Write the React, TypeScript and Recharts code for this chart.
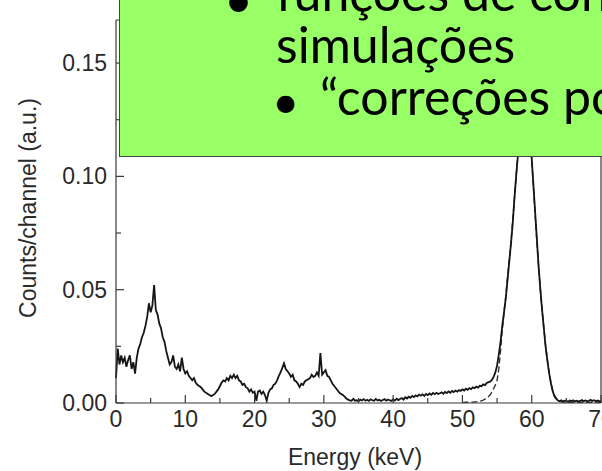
import { Label, Line, LineChart, ReferenceLine, XAxis, YAxis } from 'recharts';

// channel width of the spectrum (keV)
const CHANNEL_KEV = 0.25;

// measured spectrum, counts/channel, one row per keV (4 channels each), 0 … 70 keV
const measured = [
  0.011, 0.024, 0.017, 0.021,
  0.018, 0.020, 0.016, 0.019,
  0.021, 0.015, 0.018, 0.013,
  0.020, 0.024, 0.026, 0.029,
  0.031, 0.034, 0.038, 0.044,
  0.040, 0.043, 0.052, 0.041,
  0.039, 0.035, 0.033, 0.029,
  0.027, 0.023, 0.020, 0.017,
  0.018, 0.021, 0.016, 0.015,
  0.017, 0.014, 0.020, 0.015,
  0.013, 0.014, 0.012, 0.011,
  0.010, 0.011, 0.009, 0.008,
  0.0075, 0.007, 0.006, 0.005,
  0.0045, 0.004, 0.0035, 0.003,
  0.0035, 0.004, 0.005, 0.006,
  0.0075, 0.009, 0.010, 0.0095,
  0.011, 0.010, 0.012, 0.011,
  0.0125, 0.011, 0.012, 0.010,
  0.0095, 0.008, 0.0085, 0.007,
  0.0065, 0.005, 0.006, 0.0045,
  0.005, 0.001, 0.005, 0.0055,
  0.004, 0.005, 0.0035, 0.001,
  0.0045, 0.006, 0.0065, 0.008,
  0.0085, 0.010, 0.012, 0.0135,
  0.0155, 0.0175, 0.015, 0.014,
  0.013, 0.0115, 0.0125, 0.010,
  0.0095, 0.0085, 0.007, 0.0085,
  0.008, 0.0095, 0.010, 0.0105,
  0.011, 0.0125, 0.0115, 0.012,
  0.0135, 0.012, 0.022, 0.0125,
  0.0135, 0.0145, 0.012, 0.0115,
  0.010, 0.0085, 0.0075, 0.0065,
  0.0055, 0.0045, 0.004, 0.0035,
  0.0028, 0.002, 0.0015, 0.0012,
  0.001, 0.0018, 0.001, 0.0012,
  0.0008, 0.0015, 0.0011, 0.0017,
  0.001, 0.0014, 0.0009, 0.0016,
  0.0012, 0.001, 0.0018, 0.0011,
  0.0014, 0.0009, 0.0013, 0.0017,
  0.001, 0.0015, 0.0012, 0.0009,
  0.0016, 0.0011, 0.0019, 0.0013,
  0.0018, 0.0022, 0.0015, 0.0025,
  0.002, 0.0028, 0.0023, 0.0031,
  0.0026, 0.0034, 0.0029, 0.0037,
  0.0032, 0.0038, 0.0031, 0.004,
  0.0035, 0.0042, 0.0036, 0.0044,
  0.0039, 0.0045, 0.004, 0.0043,
  0.0047, 0.0041, 0.0049, 0.0044,
  0.0051, 0.0045, 0.0053, 0.0048,
  0.0055, 0.005, 0.0057, 0.0053,
  0.006, 0.0055, 0.0063, 0.0058,
  0.0066, 0.0061, 0.0069, 0.0065,
  0.0072, 0.0068, 0.0076, 0.0074,
  0.0082, 0.0079, 0.0088, 0.0092,
  0.0094, 0.0102, 0.0115, 0.0135,
  0.0165, 0.0215, 0.027, 0.034,
  0.040, 0.046, 0.054, 0.062,
  0.070, 0.079, 0.090, 0.100,
  0.109, 0.119, 0.128, 0.135,
  0.139, 0.141, 0.135, 0.123,
  0.108, 0.096, 0.084, 0.072,
  0.060, 0.050, 0.041, 0.033,
  0.025, 0.019, 0.0135, 0.009,
  0.0055, 0.0032, 0.002, 0.0012,
  0.0008, 0.0012, 0.0007, 0.001,
  0.0009, 0.0006, 0.0011, 0.0008,
  0.0012, 0.0007, 0.001, 0.0006,
  0.0009, 0.0013, 0.0008, 0.0011,
  0.0007, 0.001, 0.0014, 0.0009,
  0.0012, 0.0008, 0.0011, 0.0007,
  0.001,
];

// simulated response (dashed), starts at 50 keV
const SIM_START_KEV = 50;
const simulated = [
  0.0002, 0.0002, 0.0003, 0.0003,
  0.0003, 0.0004, 0.0004, 0.0005,
  0.0005, 0.0006, 0.0008, 0.0010,
  0.0013, 0.0017, 0.0022, 0.0028,
  0.0036, 0.0048, 0.0063, 0.0080,
  0.0100, 0.0150, 0.0230, 0.0320,
  0.0400, 0.0470, 0.0550, 0.0630,
  0.0710, 0.0800, 0.0900, 0.1000,
  0.1090, 0.1180, 0.1270, 0.1340,
  0.1380, 0.1390, 0.1340, 0.1220,
  0.1070, 0.0950, 0.0830, 0.0710,
  0.0600, 0.0500, 0.0410, 0.0330,
  0.0255, 0.0190, 0.0138, 0.0095,
  0.0060, 0.0036, 0.0022, 0.0013,
  0.0008, 0.0005, 0.0004, 0.0003,
  0.0003, 0.0003, 0.0003, 0.0003,
  0.0003, 0.0003, 0.0003, 0.0003,
  0.0003, 0.0003, 0.0003, 0.0003,
  0.0003, 0.0003, 0.0003, 0.0003,
  0.0003, 0.0003, 0.0003, 0.0003,
  0.0003,
];

const xTicks = [0, 5, 10, 15, 20, 25, 30, 35, 40, 45, 50, 55, 60, 65, 70];
const xLabelTicks = [0, 10, 20, 30, 40, 50, 60, 70];
const yTicks = [0, 0.025, 0.05, 0.075, 0.1, 0.125, 0.15];
const yLabelTicks = [0, 0.05, 0.1, 0.15];
const Y_MAX = 0.169;

const simOffset = SIM_START_KEV / CHANNEL_KEV;
const chartData = measured.map((counts, i) => ({
  energy: i * CHANNEL_KEV,
  counts,
  sim: i >= simOffset ? simulated[i - simOffset] : null,
}));

const AXIS = '#3a3a3a';
const TEXT = '#2a2a2a';
const FONT = '"Liberation Sans", Arial, sans-serif';

function XTick({ x, y, payload }: any) {
  const major = xLabelTicks.includes(payload.value);
  return (
    <g>
      <line x1={x} x2={x} y1={y} y2={y - (major ? 8 : 5)} stroke={AXIS} strokeWidth={1.2} />
      {major && (
        <text x={x} y={y + 24} textAnchor="middle" fontSize={23} fontFamily={FONT} fill={TEXT}>
          {payload.value}
        </text>
      )}
    </g>
  );
}

function YTick({ x, y, payload }: any) {
  const major = yLabelTicks.some((v) => Math.abs(v - payload.value) < 1e-9);
  return (
    <g>
      <line x1={x} x2={x + (major ? 8 : 5)} y1={y} y2={y} stroke={AXIS} strokeWidth={1.2} />
      {major && (
        <text x={x - 9} y={y + 8} textAnchor="end" fontSize={23} fontFamily={FONT} fill={TEXT}>
          {payload.value.toFixed(2)}
        </text>
      )}
    </g>
  );
}

export default function App() {
  return (
    <div style={{ position: 'absolute', left: 0, top: 0, width: 602, height: 471, overflow: 'hidden', background: '#fff' }}>
      <LineChart width={602} height={471} data={chartData} margin={{ top: 20, right: 1, bottom: 0, left: 0 }}>
        <XAxis
          dataKey="energy"
          type="number"
          domain={[0, 70]}
          ticks={xTicks}
          interval={0}
          tickSize={0}
          tickMargin={0}
          tickLine={false}
          tick={<XTick />}
          height={68}
          stroke={AXIS}
          strokeWidth={1.2}
        >
          <Label
            content={({ viewBox }: any) => (
              <text x={355} y={viewBox.y + viewBox.height - 6} textAnchor="middle" fontSize={23} fontFamily={FONT} fill={TEXT}>
                Energy (keV)
              </text>
            )}
          />
        </XAxis>
        <YAxis
          type="number"
          domain={[0, Y_MAX]}
          allowDataOverflow
          ticks={yTicks}
          interval={0}
          tickSize={0}
          tickMargin={0}
          tickLine={false}
          tick={<YTick />}
          width={116}
          stroke={AXIS}
          strokeWidth={1.2}
        >
          <Label
            content={() => (
              <text
                x={28}
                y={208}
                transform="rotate(-90 28 208)"
                textAnchor="middle"
                dominantBaseline="central"
                fontSize={23}
                fontFamily={FONT}
                fill={TEXT}
              >
                Counts/channel (a.u.)
              </text>
            )}
          />
        </YAxis>
        <ReferenceLine x={70} stroke={AXIS} strokeWidth={1.2} />
        <ReferenceLine y={Y_MAX} stroke={AXIS} strokeWidth={1.2} />
        <Line
          type="linear"
          dataKey="sim"
          stroke="#333"
          strokeWidth={1.4}
          strokeDasharray="6 3"
          dot={false}
          connectNulls={false}
          isAnimationActive={false}
        />
        <Line
          type="linear"
          dataKey="counts"
          stroke="#151515"
          strokeWidth={1.8}
          dot={false}
          isAnimationActive={false}
        />
      </LineChart>

      {/* slide text box laid over the figure */}
      <div
        style={{
          position: 'absolute',
          left: 119,
          top: -10,
          width: 520,
          height: 167,
          boxSizing: 'border-box',
          background: '#99ff66',
          borderLeft: '1.5px solid #444',
          borderBottom: '1.5px solid #444',
          fontFamily: 'Lato, sans-serif',
          fontSize: 50,
          lineHeight: '50px',
          color: '#000',
          whiteSpace: 'nowrap',
          overflow: 'hidden',
        }}
      >
        <div style={{ position: 'absolute', left: 104, top: -16 }}>•</div>
        <div style={{ position: 'absolute', left: 156, top: -23 }}>funções de conversão</div>
        <div style={{ position: 'absolute', left: 156, top: 29 }}>simulações</div>
        <div style={{ position: 'absolute', left: 152, top: 85, fontSize: 47 }}>•</div>
        <div style={{ position: 'absolute', left: 200, top: 81 }}>“correções por”</div>
      </div>
    </div>
  );
}
